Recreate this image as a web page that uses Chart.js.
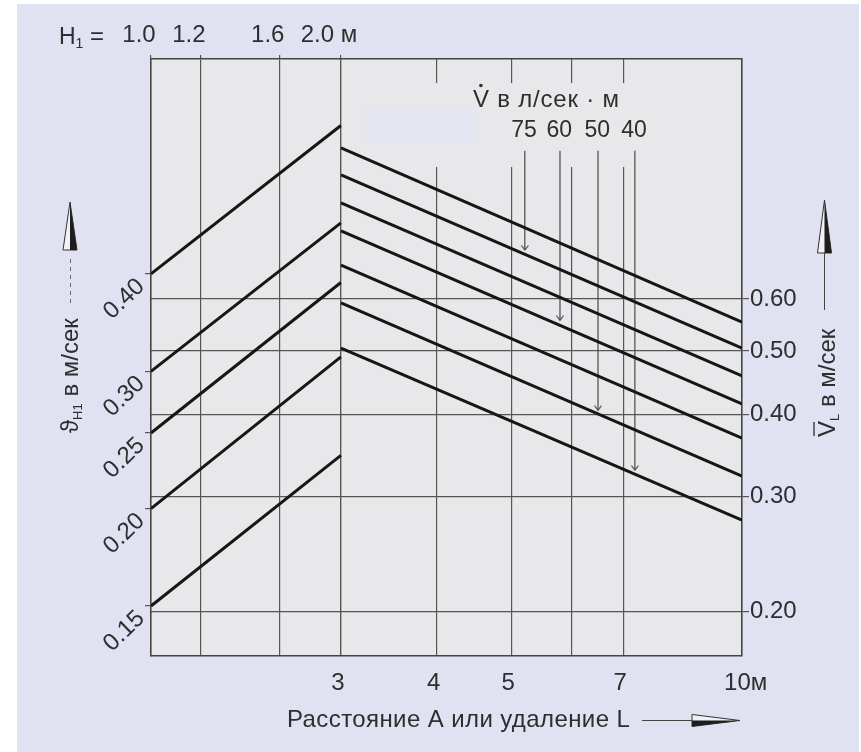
<!DOCTYPE html>
<html>
<head>
<meta charset="utf-8">
<script src="https://cdn.jsdelivr.net/npm/chart.js@4.4.1/dist/chart.umd.min.js"></script>
<style>
  html, body { margin: 0; padding: 0; background: #fff; }
</style>
</head>
<body>
<canvas id="chart" width="861" height="752"></canvas>
<script>
// H1 (top scale) and the rising lines, one per starting speed
const hTicks = [1.0, 1.2, 1.6, 2.0]
const hTickLabels = ['1.0', '1.2', '1.6', '2.0 м']
const riseH = [1.0, 2.0]
const riseStart = [0.40, 0.30, 0.25, 0.20, 0.15]
const riseEnd = [0.62, 0.465, 0.39, 0.313, 0.234]

// distance A / L (bottom scale) and the falling lines
const lTicks = [3, 4, 5, 6, 7, 10]
const lTickLabels = ['3', '4', '5', '', '7', '  10м']
const fallL = [3, 10]
const fallStart = [1.02, 0.928, 0.841, 0.762, 0.676, 0.592, 0.505]
const fallEnd = [0.553, 0.505, 0.458, 0.415, 0.368, 0.322, 0.276]

const vHTicks = [0.15, 0.20, 0.25, 0.30, 0.40]
const vHTickLabels = ['0.15', '0.20', '0.25', '0.30', '0.40']
const vLTicks = [0.20, 0.30, 0.40, 0.50, 0.60]
const vLTickLabels = ['0.20', '0.30', '0.40', '0.50', '0.60']

// V-dot markers: label, L position, speed the arrow points to
const flowLabels = ['75', '60', '50', '40']
const flowL = [5.21, 5.79, 6.49, 7.25]
const flowFrom = 1.01
const flowTo = [0.713, 0.557, 0.406, 0.329]

const FONT = '"Liberation Sans", Arial, sans-serif'
const INK = '#2e2e2e'
const GRID = '#555555'
const PLOT = '#e8e8eb'

const arrowTip = document.createElement('canvas')
arrowTip.width = 12
arrowTip.height = 12
const t = arrowTip.getContext('2d')
t.strokeStyle = '#444'
t.lineWidth = 1.2
t.beginPath()
t.moveTo(2.5, 1.5)
t.lineTo(6, 6)
t.lineTo(9.5, 1.5)
t.stroke()

const heavy = { borderColor: '#161616', borderWidth: 3, pointRadius: 0, borderCapStyle: 'butt', showLine: true, fill: false }
const datasets = []
riseStart.forEach((v, i) => {
  datasets.push({ ...heavy, xAxisID: 'xH', yAxisID: 'yH', data: [{ x: riseH[0], y: v }, { x: riseH[1], y: riseEnd[i] }] })
})
fallStart.forEach((v, i) => {
  datasets.push({ ...heavy, xAxisID: 'xL', yAxisID: 'yL', data: [{ x: fallL[0], y: v }, { x: fallL[1], y: fallEnd[i] }] })
})
flowL.forEach((l, i) => {
  datasets.push({
    xAxisID: 'xL', yAxisID: 'yL', showLine: true, borderColor: '#4a4a4a', borderWidth: 1.2,
    pointRadius: [0, 5], pointStyle: arrowTip,
    data: [{ x: l, y: flowFrom }, { x: l, y: flowTo[i] }]
  })
})

const tickFont = { family: FONT, size: 24 }
const setTicks = list => scale => { scale.ticks = list.map(v => ({ value: v })) }

function rich(ctx, parts, x, y) {
  let cx = x
  parts.forEach(p => {
    ctx.font = p.size + 'px ' + FONT
    ctx.fillText(p.text, cx, y + (p.dy || 0))
    cx += ctx.measureText(p.text).width
  })
  return cx
}

// narrow spike arrow, outline with one dark half
function spike(ctx, x, y, len, half, horizontal) {
  ctx.save()
  ctx.translate(x, y)
  if (horizontal) ctx.rotate(Math.PI / 2)
  ctx.beginPath()
  ctx.moveTo(0, 0)
  ctx.lineTo(-half, len)
  ctx.lineTo(half, len)
  ctx.closePath()
  ctx.fillStyle = '#f2f2f6'
  ctx.fill()
  ctx.strokeStyle = '#333'
  ctx.lineWidth = 1
  ctx.stroke()
  ctx.beginPath()
  ctx.moveTo(0, 0)
  ctx.lineTo(half, len)
  ctx.lineTo(0, len)
  ctx.closePath()
  ctx.fillStyle = '#1e1e1e'
  ctx.fill()
  ctx.restore()
}

const decor = {
  id: 'decor',
  beforeDraw(chart) {
    const { ctx, chartArea: a } = chart
    ctx.save()
    ctx.fillStyle = '#ffffff'
    ctx.fillRect(0, 0, chart.width, chart.height)
    ctx.fillStyle = '#e0e2f1'
    ctx.fillRect(17, 4, 842, 748)
    ctx.fillStyle = PLOT
    ctx.fillRect(a.left, a.top, a.right - a.left, a.bottom - a.top)
    ctx.restore()
  },
  beforeDatasetsDraw(chart) {
    const { ctx, scales: { xL, yL } } = chart
    ctx.save()
    // grid is broken behind the V-dot legend
    const x0 = xL.getPixelForValue(3.3), x1 = xL.getPixelForValue(8.5)
    const y0 = yL.getPixelForValue(1.281), y1 = yL.getPixelForValue(0.954)
    ctx.fillStyle = PLOT
    ctx.fillRect(x0, y0, x1 - x0, y1 - y0)
    const p0 = xL.getPixelForValue(3.24), p1 = xL.getPixelForValue(4.49)
    const q0 = yL.getPixelForValue(1.178), q1 = yL.getPixelForValue(1.038)
    ctx.fillStyle = '#e4e6f2'
    ctx.fillRect(p0, q0, p1 - p0, q1 - q0)
    ctx.restore()
  },
  afterDraw(chart) {
    const { ctx, scales: { xL } } = chart
    ctx.save()
    ctx.fillStyle = INK
    ctx.textBaseline = 'alphabetic'
    ctx.textAlign = 'left'

    rich(ctx, [{ text: 'H', size: 23 }, { text: '1', size: 14, dy: 4 }, { text: ' =', size: 24 }], 59, 44)

    // V-dot legend
    ctx.letterSpacing = '0.8px'
    ctx.font = '24px ' + FONT
    const vw = ctx.measureText('V').width
    rich(ctx, [{ text: 'V в л/сек · м', size: 24 }], 473, 107)
    ctx.beginPath()
    ctx.arc(473 + vw / 2 - 0.5, 85.5, 1.8, 0, Math.PI * 2)
    ctx.fill()
    ctx.letterSpacing = '0px'
    ctx.textAlign = 'right'
    ctx.font = '23px ' + FONT
    flowLabels.forEach((s, i) => ctx.fillText(s, xL.getPixelForValue(flowL[i]) + 12, 137))
    ctx.textAlign = 'left'

    // bottom title with arrow
    ctx.letterSpacing = '0.4px'
    ctx.font = '24px ' + FONT
    ctx.fillText('Расстояние А или удаление L', 287, 727)
    ctx.letterSpacing = '0px'
    ctx.strokeStyle = '#444'
    ctx.lineWidth = 1
    ctx.beginPath()
    ctx.moveTo(642, 720.5)
    ctx.lineTo(693, 720.5)
    ctx.stroke()
    spike(ctx, 740, 720.5, 48, 6, true)

    // left title
    ctx.save()
    ctx.translate(78, 433)
    ctx.rotate(-Math.PI / 2)
    rich(ctx, [{ text: 'ϑ', size: 24 }, { text: 'H1', size: 13, dy: 4 }, { text: ' в м/сек', size: 24 }], 0, 0)
    ctx.restore()
    ctx.strokeStyle = '#666'
    ctx.setLineDash([4, 4])
    ctx.beginPath()
    ctx.moveTo(70.5, 303)
    ctx.lineTo(70.5, 258)
    ctx.stroke()
    ctx.setLineDash([])
    spike(ctx, 70, 202, 48, 7, false)

    // right title
    ctx.save()
    ctx.translate(835, 437)
    ctx.rotate(-Math.PI / 2)
    ctx.font = '24px ' + FONT
    const w = ctx.measureText('V').width
    rich(ctx, [{ text: 'V', size: 24 }, { text: 'L', size: 13, dy: 4 }, { text: ' в м/сек', size: 24 }], 0, 0)
    ctx.strokeStyle = INK
    ctx.lineWidth = 1.3
    ctx.beginPath()
    ctx.moveTo(1, -21)
    ctx.lineTo(w - 1, -21)
    ctx.stroke()
    ctx.restore()
    ctx.strokeStyle = '#444'
    ctx.beginPath()
    ctx.moveTo(824.5, 310)
    ctx.lineTo(824.5, 253)
    ctx.stroke()
    spike(ctx, 824.5, 200, 53, 7, false)

    ctx.restore()
  }
}

const border = { color: '#444', width: 1.5 }

new Chart(document.getElementById('chart'), {
  type: 'scatter',
  data: { datasets },
  options: {
    responsive: false,
    animation: false,
    events: [],
    layout: { padding: 0 },
    plugins: { legend: { display: false }, tooltip: { enabled: false } },
    scales: {
      xH: {
        type: 'logarithmic', axis: 'x', position: 'top', min: 1, max: 8.647,
        afterBuildTicks: setTicks(hTicks),
        afterFit: s => { s.height = 59 },
        grid: { color: GRID, lineWidth: 1.2, tickLength: 4 },
        border,
        ticks: { callback: (v, i) => hTickLabels[i], autoSkip: false, maxRotation: 0, labelOffset: -12, padding: 5, font: tickFont, color: INK }
      },
      xL: {
        type: 'logarithmic', axis: 'x', position: 'bottom', min: 1.696, max: 10,
        afterBuildTicks: setTicks(lTicks),
        afterFit: s => { s.height = 96 },
        grid: { color: GRID, lineWidth: 1.2, drawTicks: false },
        border,
        ticks: { callback: (v, i) => lTickLabels[i], autoSkip: false, maxRotation: 0, labelOffset: -3, padding: 13, font: tickFont, color: INK }
      },
      yH: {
        type: 'logarithmic', axis: 'y', position: 'left', min: 0.1294, max: 0.7546,
        afterBuildTicks: setTicks(vHTicks),
        afterFit: s => { s.width = 151 },
        grid: { color: GRID, lineWidth: 1.2, drawOnChartArea: false, tickLength: 6 },
        border,
        ticks: { callback: (v, i) => vHTickLabels[i], autoSkip: false, minRotation: 44, maxRotation: 44, labelOffset: 9, padding: 4, font: tickFont, color: INK }
      },
      yL: {
        type: 'logarithmic', axis: 'y', position: 'right', min: 0.1712, max: 1.394,
        afterBuildTicks: setTicks(vLTicks),
        afterFit: s => { s.width = 119 },
        grid: { color: GRID, lineWidth: 1.2, tickLength: 7 },
        border,
        ticks: { callback: (v, i) => vLTickLabels[i], autoSkip: false, padding: 1, font: tickFont, color: INK }
      }
    }
  },
  plugins: [decor]
})
</script>
</body>
</html>
